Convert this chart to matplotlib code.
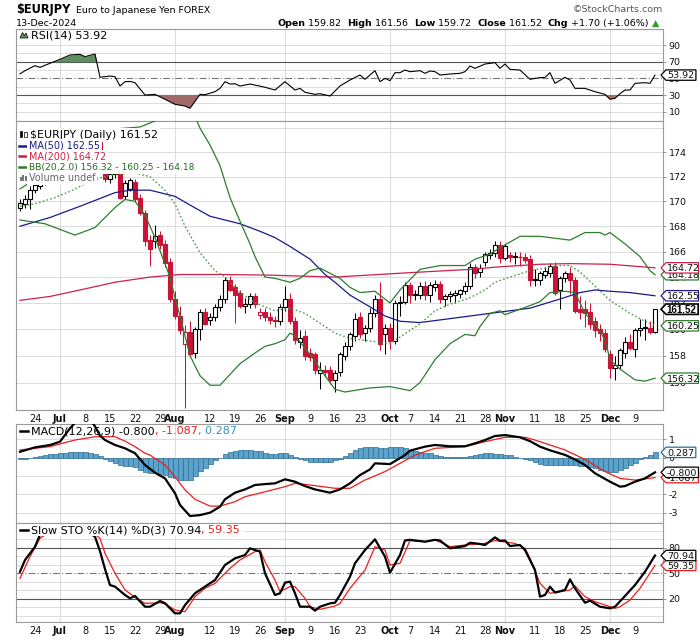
import numpy as np
import pandas as pd
import matplotlib
matplotlib.use("Agg")
import matplotlib.pyplot as plt
from matplotlib.patches import Rectangle, Polygon

plt.rcParams['font.family'] = ['DejaVu Sans']

# ---------------- data ----------------
dates = pd.bdate_range("2024-06-19", "2024-12-13")   # 128 trading days

opens = [169.50, 169.80, 170.20, 170.95, 171.20, 171.50, 171.70, 171.90, 172.40, 173.20,
         172.90, 173.90, 174.00, 174.20, 174.50, 174.70, 175.00, 172.60, 171.80, 172.20,
         172.30, 170.40, 171.00, 171.60, 170.30, 169.10, 166.90, 166.80, 167.30, 166.60,
         165.20, 162.30, 161.00, 158.90, 159.80, 158.20, 160.00, 161.30, 160.70, 160.90,
         161.70, 162.30, 163.80, 163.20, 162.80, 161.80, 161.90, 162.50, 161.10, 161.30,
         160.90, 160.70, 160.60, 161.70, 162.30, 160.60, 159.00, 159.50, 158.20, 158.10,
         156.70, 156.95, 156.90, 156.20, 156.80, 158.00, 158.70, 159.50, 160.90, 159.70,
         160.10, 161.20, 162.30, 159.60, 160.10, 159.10, 162.00, 162.10, 163.40, 162.60,
         162.60, 163.30, 162.60, 163.20, 163.50, 162.30, 162.50, 162.60, 162.70, 162.90,
         163.30, 164.80, 164.40, 165.20, 165.70, 165.90, 166.50, 165.50, 165.70, 165.60,
         165.60, 165.60, 165.40, 163.85, 163.80, 164.20, 164.30, 164.90, 163.00, 163.90,
         164.30, 163.80, 161.50, 161.50, 161.30, 160.60, 160.00, 159.70, 158.10, 157.10,
         157.30, 158.20, 159.00, 158.50, 159.90, 160.10, 160.10, 159.82]
highs = [170.15, 170.50, 171.20, 171.60, 171.70, 171.90, 172.10, 172.60, 173.40, 173.50,
         174.10, 174.20, 174.40, 174.70, 174.90, 175.20, 175.40, 174.00, 172.40, 172.50,
         172.50, 171.70, 171.90, 171.80, 170.60, 169.30, 167.30, 168.10, 167.60, 166.90,
         165.50, 162.90, 161.80, 160.30, 160.60, 160.20, 161.50, 161.60, 161.20, 161.90,
         162.60, 164.00, 164.10, 163.50, 163.00, 162.40, 162.80, 162.80, 161.60, 161.60,
         161.30, 161.00, 161.90, 163.30, 162.80, 160.90, 159.90, 159.90, 158.60, 158.30,
         157.50, 157.30, 157.20, 156.90, 158.30, 159.00, 159.80, 161.20, 161.30, 160.30,
         161.60, 162.60, 163.60, 160.40, 160.50, 162.20, 162.50, 163.60, 163.60, 163.00,
         163.60, 163.70, 163.60, 163.80, 163.70, 162.70, 162.90, 163.00, 163.10, 163.60,
         165.10, 165.00, 165.00, 166.00, 166.20, 166.80, 166.80, 166.60, 166.00, 166.00,
         166.00, 165.90, 165.70, 164.60, 164.50, 164.80, 165.10, 165.20, 164.10, 164.50,
         164.80, 164.00, 162.50, 162.20, 162.00, 160.90, 160.40, 160.00, 158.40, 158.00,
         158.60, 159.40, 159.60, 160.10, 160.80, 160.80, 160.60, 161.56]
lows = [169.20, 169.50, 169.40, 170.70, 171.00, 171.30, 171.50, 171.70, 172.20, 172.60,
        172.80, 173.60, 173.70, 173.90, 174.20, 174.50, 172.30, 171.60, 171.50, 171.90,
        170.20, 170.20, 170.80, 170.00, 168.90, 166.40, 164.90, 166.30, 166.20, 164.80,
        162.10, 160.80, 159.60, 154.10, 157.90, 157.80, 159.20, 160.30, 160.30, 160.60,
        161.40, 162.00, 162.90, 160.50, 161.60, 161.20, 161.60, 161.60, 160.80, 160.60,
        160.40, 160.20, 160.30, 161.40, 160.40, 158.90, 158.60, 157.70, 157.60, 156.60,
        155.50, 156.40, 155.90, 155.30, 156.50, 157.70, 158.40, 159.10, 159.30, 159.10,
        159.80, 160.90, 158.40, 158.10, 158.50, 158.90, 161.00, 161.90, 162.00, 162.20,
        162.30, 162.20, 162.10, 162.90, 162.00, 161.80, 162.10, 162.00, 162.40, 162.70,
        163.10, 163.90, 164.00, 164.90, 165.40, 165.60, 165.10, 165.30, 165.20, 165.00,
        164.90, 165.10, 163.30, 163.30, 163.40, 163.90, 164.00, 162.60, 161.50, 163.60,
        162.70, 161.20, 160.80, 160.20, 160.00, 159.40, 159.10, 158.30, 156.30, 156.20,
        157.00, 157.80, 158.40, 157.90, 159.50, 159.20, 159.60, 159.72]
closes = [169.85, 170.20, 170.95, 171.30, 171.50, 171.70, 171.90, 172.40, 173.20, 172.90,
          173.90, 174.00, 174.20, 174.50, 174.70, 175.00, 172.60, 171.80, 172.20, 172.30,
          170.30, 171.50, 171.70, 170.20, 169.10, 166.80, 166.20, 167.20, 166.50, 165.10,
          162.30, 161.00, 159.90, 159.80, 158.10, 160.00, 161.30, 160.40, 160.90, 161.70,
          162.30, 163.80, 163.00, 162.60, 161.80, 161.95, 162.50, 161.90, 161.30, 160.90,
          160.70, 160.60, 161.70, 162.30, 160.60, 159.20, 159.30, 158.00, 157.90, 156.90,
          156.95, 156.80, 156.20, 156.70, 158.10, 158.70, 159.60, 160.80, 159.60, 160.10,
          161.20, 162.30, 158.90, 160.10, 159.10, 162.00, 162.10, 163.40, 162.60, 162.70,
          163.30, 162.60, 163.40, 163.50, 162.30, 162.50, 162.70, 162.80, 163.00, 163.30,
          164.80, 164.30, 164.70, 165.80, 165.90, 166.50, 165.50, 166.40, 165.60, 165.65,
          165.60, 165.30, 163.80, 163.80, 164.30, 164.50, 164.90, 162.80, 163.90, 164.30,
          163.80, 161.40, 161.30, 161.20, 160.40, 159.90, 159.70, 158.50, 157.10, 157.30,
          158.40, 159.00, 158.60, 159.90, 160.10, 160.15, 159.82, 161.52]

ma50_i = [0, 6, 12, 19, 22, 26, 29, 31, 34, 38, 44, 48, 51, 54, 58, 61, 63, 66, 70, 73,
          76, 80, 84, 90, 96, 102, 108, 112, 115, 118, 122, 127]
ma50_v = [168.0, 168.7, 169.6, 170.7, 170.9, 170.9, 170.6, 170.4, 169.7, 168.8, 168.2, 167.6,
          167.1, 166.4, 165.4, 164.2, 163.6, 162.6, 161.7, 161.0, 160.6, 160.5, 160.7, 161.0,
          161.3, 161.6, 162.3, 162.8, 163.0, 162.9, 162.8, 162.55]
ma200_i = [0, 6, 12, 19, 26, 32, 40, 50, 63, 76, 90, 96, 104, 110, 118, 127]
ma200_v = [162.2, 162.5, 163.0, 163.6, 164.0, 164.2, 164.2, 164.15, 164.0, 164.3, 164.6,
           164.8, 165.0, 165.05, 165.0, 164.72]
bbl_i = [0, 5, 11, 15, 19, 21, 23, 25, 27, 30, 31, 32, 34, 36, 38, 40, 42, 44, 47, 49, 51,
         53, 54, 55, 58, 61, 63, 65, 70, 74, 78, 80, 83, 86, 89, 91, 92, 94, 96, 97, 102, 104,
         106, 109, 111, 113, 115, 117, 118, 120, 123, 125, 127]
bbl_v = [168.5, 168.2, 167.3, 167.9, 169.5, 170.15, 170.0, 168.9, 167.1, 164.0, 162.4, 161.0,
         158.0, 156.5, 155.8, 155.8, 156.6, 157.4, 158.2, 158.7, 158.9, 159.2, 159.7, 159.5,
         158.1, 156.5, 155.5, 155.3, 155.6, 155.7, 155.4, 156.0, 157.7, 158.9, 159.6, 159.5,
         160.2, 161.2, 161.4, 161.1, 161.8, 162.1, 162.8, 162.9, 162.8, 161.2, 160.4, 159.2,
         157.7, 157.0, 156.2, 156.1, 156.32]
bbu_i = [0, 3, 6, 9, 12, 15, 18, 21, 24, 27, 30, 33, 35, 36, 38, 40, 42, 44, 46, 47, 49, 51,
         54, 56, 58, 60, 62, 64, 66, 68, 71, 73, 74, 76, 80, 84, 89, 91, 94, 96, 100, 104, 110,
         113, 116, 117, 118, 121, 124, 126, 127]
bbu_v = [171.0, 171.8, 173.0, 174.3, 175.2, 175.7, 175.9, 176.0, 176.1, 176.6, 177.6, 177.8,
         177.0, 176.0, 174.6, 172.9, 170.3, 168.4, 166.6, 165.6, 164.0, 163.9, 163.6, 163.9,
         164.5, 164.7, 164.3, 163.9, 163.2, 162.8, 162.9, 162.3, 162.0, 163.0, 164.6, 164.9,
         164.9, 165.4, 165.8, 166.3, 167.2, 167.2, 166.9, 167.5, 167.5, 167.3, 167.5, 166.6,
         165.6, 164.5, 164.18]
bbm_i = [0, 3, 7, 10, 13, 16, 19, 23, 26, 29, 31, 33, 36, 39, 41, 44, 47, 51, 54, 57, 61, 63,
         66, 70, 74, 76, 80, 83, 86, 90, 93, 95, 98, 102, 105, 108, 110, 112, 115, 118, 122,
         125, 127]
bbm_v = [169.6, 169.8, 170.3, 170.8, 171.4, 171.9, 172.2, 172.3, 172.0, 170.9, 169.8, 168.0,
         165.9, 164.5, 164.0, 162.8, 162.0, 161.4, 161.6, 161.2, 160.2, 159.7, 159.3, 159.1,
         158.9, 159.4, 160.4, 161.4, 161.9, 162.4, 163.0, 163.6, 164.0, 164.5, 164.7, 164.9,
         164.9, 164.4, 163.3, 162.2, 161.2, 160.6, 160.25]

rsi_i = [0, 1, 3, 4, 6, 8, 10, 12, 13, 15, 16, 18, 19, 20, 21, 22, 23, 25, 27, 29, 31, 33,
         34, 36, 37, 39, 40, 41, 42, 43, 44, 46, 49, 51, 53, 55, 56, 57, 59, 60, 62, 64, 66,
         68, 69, 71, 72, 73, 74, 75, 76, 77, 78, 80, 81, 82, 83, 84, 86, 88, 89, 90, 91, 93,
         95, 96, 97, 98, 100, 102, 103, 104, 105, 106, 107, 109, 110, 111, 113, 115, 117,
         118, 119, 120, 121, 122, 123, 125, 126, 127]
rsi_v = [55.4, 59.2, 65.2, 63.2, 68.1, 72.8, 78.0, 78.8, 76.0, 79.2, 51.3, 52.8, 52.0, 40.8,
         46.0, 46.3, 44.8, 30.0, 30.8, 24.9, 18.9, 16.8, 14.1, 30.8, 30.4, 34.0, 38.0, 46.0,
         43.2, 43.5, 40.8, 43.2, 39.3, 36.0, 46.0, 36.0, 38.0, 33.3, 30.8, 31.6, 28.8, 40.8,
         48.0, 54.0, 48.9, 59.2, 46.0, 50.0, 47.2, 56.8, 56.8, 60.0, 58.0, 59.2, 56.0, 58.8,
         58.0, 54.0, 55.2, 56.0, 58.0, 64.8, 62.0, 67.2, 68.8, 62.0, 67.2, 60.8, 60.0, 48.9,
         50.0, 50.8, 51.2, 56.8, 44.0, 51.2, 48.0, 38.0, 38.0, 34.0, 30.8, 24.9, 26.0, 31.6,
         36.0, 36.0, 44.0, 44.8, 44.0, 53.92]

macd_i = [0, 3, 6, 8, 10, 11, 12, 14, 15, 16, 17, 19, 21, 23, 25, 27, 29, 31, 32, 34, 36,
          38, 40, 41, 43, 45, 47, 49, 51, 53, 55, 57, 59, 62, 64, 66, 68, 70, 71, 74, 77, 78,
          81, 83, 86, 89, 91, 93, 95, 97, 100, 102, 104, 106, 109, 111, 113, 115, 118, 120,
          121, 123, 125, 127]
macd_v = [0.32, 0.56, 0.69, 0.87, 1.60, 1.90, 2.05, 2.10, 1.70, 1.20, 0.96, 0.69, 0.51, 0.24,
          -0.40, -0.82, -1.13, -1.94, -2.58, -3.18, -3.13, -3.00, -2.67, -2.27, -1.91, -1.73,
          -1.49, -1.44, -1.40, -1.18, -1.31, -1.55, -1.73, -1.91, -1.73, -1.40, -0.95, -0.64,
          -0.31, -0.35, 0.14, 0.38, 0.60, 0.69, 0.62, 0.62, 0.78, 0.96, 1.18, 1.23, 1.11, 0.90,
          0.60, 0.40, 0.15, -0.10, -0.40, -0.85, -1.31, -1.58, -1.55, -1.31, -1.13, -0.80]
sig_i = [0, 3, 6, 9, 11, 15, 19, 21, 23, 25, 26, 29, 31, 33, 35, 38, 40, 43, 45, 49, 53, 55,
         58, 63, 66, 69, 73, 76, 79, 83, 89, 93, 97, 101, 103, 109, 113, 117, 120, 123, 127]
sig_v = [0.42, 0.51, 0.60, 0.82, 0.96, 1.14, 1.14, 0.90, 0.60, 0.24, 0.14, -0.40, -1.04,
         -1.76, -2.27, -2.64, -2.64, -2.40, -2.13, -1.86, -1.58, -1.40, -1.49, -1.67, -1.67,
         -1.22, -0.76, -0.31, 0.14, 0.51, 0.60, 0.87, 1.11, 1.11, 0.96, 0.42, -0.10, -0.76,
         -1.13, -1.22, -1.087]
hist_v = [-0.10, -0.08, -0.02, 0.05, 0.10, 0.15, 0.20, 0.22, 0.24, 0.27,
          0.29, 0.30, 0.30, 0.29, 0.27, 0.22, 0.10, -0.09, -0.20, -0.31,
          -0.38, -0.43, -0.47, -0.52, -0.70, -0.78, -0.82, -0.85, -0.90, -0.97,
          -1.04, -1.12, -1.22, -1.24, -1.22, -0.98, -0.72, -0.55, -0.36, -0.15,
          0.00, 0.20, 0.32, 0.38, 0.40, 0.40, 0.40, 0.38, 0.36, 0.28,
          0.20, 0.22, 0.27, 0.28, 0.17, 0.05, -0.05, -0.15, -0.22, -0.24,
          -0.24, -0.22, -0.22, -0.15, -0.08, 0.10, 0.24, 0.40, 0.54, 0.56,
          0.56, 0.58, 0.52, 0.55, 0.60, 0.58, 0.56, 0.50, 0.42, 0.36,
          0.30, 0.27, 0.24, 0.15, 0.08, 0.05, 0.03, 0.02, 0.03, 0.06,
          0.09, 0.15, 0.20, 0.24, 0.24, 0.22, 0.18, 0.14, 0.12, 0.06,
          0.00, -0.06, -0.13, -0.25, -0.36, -0.40, -0.40, -0.42, -0.40, -0.40,
          -0.40, -0.42, -0.44, -0.46, -0.52, -0.58, -0.65, -0.72, -0.76, -0.76,
          -0.68, -0.58, -0.42, -0.28, -0.10, 0.02, 0.14, 0.287]

stok_i = [0, 1, 3, 4, 5, 6, 7, 8, 10, 12, 13, 14, 15, 16, 17, 18, 19, 21, 22, 23, 25, 26, 28,
          29, 31, 32, 33, 35, 37, 39, 41, 43, 45, 46, 48, 49, 51, 52, 53, 54, 55, 56, 58, 59,
          60, 62, 63, 64, 66, 67, 69, 71, 73, 74, 76, 77, 78, 81, 83, 84, 86, 89, 90, 92, 93,
          95, 96, 97, 98, 100, 101, 103, 104, 105, 106, 107, 109, 110, 111, 113, 114, 116,
          118, 119, 121, 123, 125, 127]
stok_v = [51.9, 65.6, 81.3, 95.5, 96.0, 96.0, 99.0, 100.0, 100.0, 100.0, 99.0, 97.0, 93.0,
          76.0, 55.0, 36.2, 34.3, 24.5, 20.6, 23.3, 10.7, 10.7, 17.4, 14.8, 2.9, 2.9, 12.6,
          26.5, 34.3, 42.1, 59.8, 67.6, 71.5, 79.4, 75.5, 50.0, 24.5, 26.5, 39.0, 40.2, 26.5,
          10.7, 10.7, 6.0, 10.7, 14.6, 15.4, 24.5, 46.0, 61.8, 77.4, 90.0, 69.6, 50.7, 71.5,
          88.6, 89.4, 87.2, 89.4, 88.6, 79.4, 82.1, 86.0, 84.5, 83.3, 92.3, 88.2, 88.6, 82.1,
          83.3, 77.4, 53.9, 22.5, 24.5, 34.3, 27.3, 30.4, 42.9, 32.3, 15.4, 17.8, 10.7, 8.8,
          10.7, 23.3, 36.2, 51.9, 70.94]
stod_i = [0, 2, 4, 5, 6, 8, 10, 12, 14, 15, 16, 17, 19, 21, 23, 25, 28, 29, 31, 33, 35, 37,
          39, 42, 44, 47, 48, 49, 51, 52, 54, 55, 57, 58, 60, 63, 64, 66, 69, 71, 73, 74, 76,
          78, 81, 83, 86, 89, 93, 95, 99, 101, 102, 104, 106, 108, 110, 111, 113, 115, 119,
          120, 122, 124, 127]
stod_v = [44.1, 69.6, 91.2, 95.0, 95.5, 98.0, 99.5, 100.0, 98.0, 96.0, 91.2, 73.5, 50.0,
          30.4, 21.8, 14.6, 15.4, 14.0, 6.8, 4.8, 22.5, 32.3, 38.2, 55.9, 65.7, 75.5, 77.4,
          63.7, 42.1, 28.4, 34.3, 34.3, 20.6, 10.7, 7.6, 11.5, 14.6, 32.3, 53.9, 81.3, 77.4,
          59.8, 61.8, 88.6, 87.2, 89.4, 81.3, 83.3, 85.2, 88.6, 85.2, 79.4, 67.6, 38.2, 26.5,
          28.4, 30.4, 35.3, 22.5, 16.6, 8.8, 10.7, 18.5, 32.3, 59.35]

# ---------------- layout ----------------
W, H = 700, 639
fig = plt.figure(figsize=(W / 100, H / 100), dpi=100)
L, R = 16, 663
XL = (-0.8, 128.6)

RED = '#cc1236'
GRID = '#dcdcdc'
SPINE = '#9a9a9a'
GREEN = '#2f7d2f'


def panel(top, bottom):
    return fig.add_axes([L / W, 1 - bottom / H, (R - L) / W, (bottom - top) / H])


ax_r = panel(29, 121)
ax_p = panel(121, 410)
ax_m = panel(424, 523)
ax_s = panel(523, 622)

n = len(closes)
month_first = [i for i in range(1, n) if dates[i].month != dates[i - 1].month]
mondays = [i for i in range(n) if dates[i].weekday() == 0]
tick_pos, tick_txt, tick_bold = [], [], []
for i in sorted(set(month_first) | set(mondays)):
    if i in month_first:
        tick_pos.append(i); tick_txt.append(dates[i].strftime('%b')); tick_bold.append(True)
    elif min(abs(i - m) for m in month_first) > 2:
        tick_pos.append(i); tick_txt.append(str(dates[i].day)); tick_bold.append(False)

for ax in (ax_r, ax_p, ax_m, ax_s):
    ax.set_xlim(*XL)
    for s in ax.spines.values():
        s.set_color(SPINE); s.set_linewidth(0.8)
    ax.yaxis.tick_right()
    ax.tick_params(axis='y', length=2, width=0.6, color='#888888', labelsize=6.8, pad=2,
                   labelcolor='#111111')
    ax.set_xticks([])
    for m in month_first:
        ax.axvline(m, color=GRID, lw=0.8, zorder=0)


def xlabels(ax):
    ax.set_xticks(tick_pos)
    ax.set_xticklabels(tick_txt)
    for lab, b in zip(ax.get_xticklabels(), tick_bold):
        lab.set_fontweight('bold' if b else 'normal')
    ax.tick_params(axis='x', length=0, pad=2.6, labelsize=7, labelcolor='#111111')


# ---- RSI ----
ax_r.set_ylim(-1.16, 109.2)
for v in range(10, 100, 10):
    if v in (30, 70):
        ax_r.axhline(v, color='#555555', lw=0.8, zorder=1)
    elif v == 50:
        ax_r.axhline(v, color='#777777', lw=0.8, ls=(0, (6, 2, 1, 2)), zorder=1)
    else:
        ax_r.axhline(v, color=GRID, lw=0.7, zorder=0)
ri = np.array(rsi_i); rv = np.array(rsi_v)
ax_r.fill_between(ri, rv, 70, where=rv > 70, interpolate=True, color='#5f8f5f', lw=0, zorder=2)
ax_r.fill_between(ri, rv, 30, where=rv < 30, interpolate=True, color='#a36a6a', lw=0, zorder=2)
ax_r.plot(ri, rv, color='black', lw=0.8, zorder=3)
ax_r.set_yticks([10, 30, 50, 70, 90])
ax_r.set_yticklabels(['10', '30', '50', '70', '90'])

# ---- Price ----
ax_p.set_yscale('log')
ax_p.set_ylim(153.98, 176.6)
ax_p.yaxis.set_minor_locator(matplotlib.ticker.NullLocator())
for v in range(156, 178, 2):
    ax_p.axhline(v, color=GRID, lw=0.7, zorder=0)
pt = list(range(156, 176, 2))
ax_p.set_yticks(pt)
ax_p.set_yticklabels([str(v) for v in pt])
ax_p.yaxis.set_minor_formatter(matplotlib.ticker.NullFormatter())

bw = 0.66
for i in range(n):
    o, h, l, c = opens[i], highs[i], lows[i], closes[i]
    prev = closes[i - 1] if i else o
    col = RED if c < prev else 'black'
    ax_p.vlines(i, l, h, color=col, lw=0.75, zorder=2)
    lo, hi = min(o, c), max(o, c)
    if hi - lo < 0.04:
        ax_p.hlines(c, i - bw / 2, i + bw / 2, color=col, lw=1.0, zorder=3)
    else:
        fc = 'white' if c >= o else col
        ax_p.add_patch(Rectangle((i - bw / 2, lo), bw, hi - lo, fc=fc, ec=col, lw=0.8, zorder=3))

ax_p.plot(ma200_i, ma200_v, color='#d0204a', lw=0.9, zorder=4)
ax_p.plot(ma50_i, ma50_v, color='#1a1a8c', lw=0.9, zorder=4)
ax_p.plot(bbu_i, bbu_v, color=GREEN, lw=0.9, zorder=4)
ax_p.plot(bbl_i, bbl_v, color=GREEN, lw=0.9, zorder=4)
ax_p.plot(bbm_i, bbm_v, color='#4f9a4f', lw=1.0, ls=(0, (1.2, 1.6)), zorder=4)
xlabels(ax_p)

# ---- MACD ----
ax_m.set_ylim(-3.561, 1.834)
for v in (-3, -2, -1, 0, 1):
    ax_m.axhline(v, color=GRID, lw=0.7, zorder=0)
ax_m.bar(range(n), hist_v, width=1.0, color='#5ba3cc', edgecolor='#2e6e90', lw=0.5, zorder=2)
ax_m.plot(sig_i, sig_v, color='#ee1c1c', lw=0.9, zorder=3)
ax_m.plot(macd_i, macd_v, color='black', lw=1.6, zorder=4)
ax_m.set_yticks([-3, -2, -1, 0, 1])
ax_m.set_yticklabels(['-3', '-2', '-1', '0', '1'])

# ---- Slow STO ----
ax_s.set_ylim(-7.3, 109.2)
for v in range(0, 110, 10):
    if v in (20, 80):
        ax_s.axhline(v, color='#555555', lw=0.8, zorder=1)
    elif v == 50:
        ax_s.axhline(v, color='#777777', lw=0.8, ls=(0, (6, 2, 1, 2)), zorder=1)
    else:
        ax_s.axhline(v, color=GRID, lw=0.7, zorder=0)
ax_s.plot(stod_i, stod_v, color='#ee1c1c', lw=0.9, zorder=3)
ax_s.plot(stok_i, stok_v, color='black', lw=1.6, zorder=4)
ax_s.set_yticks([20, 50, 80])
ax_s.set_yticklabels(['20', '50', '80'])
xlabels(ax_s)

# ---------------- overlay (texts, legends, tags) ----------------
ov = fig.add_axes([0, 0, 1, 1], zorder=20)
ov.set_xlim(0, W); ov.set_ylim(H, 0); ov.axis('off'); ov.patch.set_alpha(0)
renderer = fig.canvas.get_renderer()


def seq(x, y, pieces, size, z=6, bbox=None):
    for s, c, wgt in pieces:
        t = ov.text(x, y, s, color=c, fontsize=size, fontweight=wgt, va='baseline', ha='left',
                    zorder=z, bbox=bbox)
        x += t.get_window_extent(renderer=renderer).width
    return x


# header
ov.text(16, 13.5, '$EURJPY', fontsize=8.3, fontweight='bold', va='baseline', color='black')
ov.text(76, 13.3, 'Euro to Japanese Yen FOREX', fontsize=6.8, va='baseline', color='black')
ov.text(16, 26, '13-Dec-2024', fontsize=6.8, va='baseline', color='black')
ov.text(663, 12, '\u00a9StockCharts.com', fontsize=6.8, va='baseline', ha='right', color='#555555')
B, N = 'bold', 'normal'
seq(277, 26, [('Open', 'black', B), (' 159.82  ', 'black', N), ('High', 'black', B),
              (' 161.56  ', 'black', N), ('Low', 'black', B), (' 159.72  ', 'black', N),
              ('Close', 'black', B), (' 161.52  ', 'black', N), ('Chg', 'black', B),
              (' +1.70 (+1.06%) ', 'black', N), ('\u25b2', '#2a9d2a', N)], 6.8)

# RSI legend
ov.add_patch(Polygon([(20, 38), (22.5, 32.5), (24.5, 35.5), (26, 33), (28, 38)], closed=True,
                     fc='#5f8f5f', ec='black', lw=0.5, zorder=6))
seq(31, 38.3, [('RSI(14) %.2f' % rsi_v[-1], 'black', N)], 8.0)

# price legend
wb = dict(boxstyle='square,pad=0.2', fc='white', ec='none')
ov.add_patch(Rectangle((17, 128), 13, 56, fc='white', ec='none', zorder=5))
ov.add_patch(Rectangle((19.5, 131), 2.5, 6, fc='black', ec='black', lw=0.5, zorder=6))
ov.add_patch(Rectangle((24, 132), 2.5, 5, fc='white', ec='black', lw=0.5, zorder=6))
seq(30, 138, [('$EURJPY (Daily) %.2f' % closes[-1], 'black', N)], 7.9, bbox=wb)
ov.plot([19, 28], [145.5, 145.5], color='#1a1a8c', lw=1.8, zorder=6)
seq(29, 148.9, [('MA(50) %.2f' % ma50_v[-1], '#1a1a8c', N)], 6.9, bbox=wb)
ov.plot([19, 28], [156.2, 156.2], color='#d0204a', lw=1.8, zorder=6)
seq(29, 159.6, [('MA(200) %.2f' % ma200_v[-1], '#d0204a', N)], 6.9, bbox=wb)
ov.plot([19, 28], [166.9, 166.9], color=GREEN, lw=1.8, zorder=6)
seq(29, 170.3, [('BB(20,2.0) %.2f - %.2f - %.2f' % (bbl_v[-1], bbm_v[-1], bbu_v[-1]),
                 '#1e6e1e', N)], 6.6, bbox=wb)
for k, hh in enumerate([4, 6, 5]):
    ov.add_patch(Rectangle((19.5 + k * 2.7, 180.5 - hh), 2, hh, fc='#777777', ec='none', zorder=6))
seq(29, 181.0, [('Volume undef', '#666666', N)], 6.9, bbox=wb)

# MACD legend
ov.plot([20, 28], [431, 431], color='black', lw=1.8, zorder=6)
seq(31, 434, [('MACD(12,26,9) %.3f' % macd_v[-1], 'black', N), (', %.3f' % sig_v[-1], '#ee1c1c', N),
              (', %.3f' % hist_v[-1], '#3a8fc0', N)], 8.0)
# STO legend (white backing)
ov.add_patch(Rectangle((17, 524.5), 228, 11.5, fc='white', ec='none', zorder=5))
ov.plot([20, 28], [530, 530], color='black', lw=1.8, zorder=6)
seq(31, 533.3, [('Slow STO %%K(14) %%D(3) %.2f' % stok_v[-1], 'black', N),
                (', %.2f' % stod_v[-1], '#ee1c1c', N)], 8.0)

# value tags on the right
zc = [10]


def tag(ax, val, text, edge, bold=False, lw=0.9):
    y = H - ax.transData.transform((0, val))[1]
    z = zc[0]; zc[0] += 2
    if bold:
        t = ov.text(666.5, y + 3.4, text, fontsize=7.0, va='baseline', ha='left', color='black',
                    fontweight='bold', family=['Liberation Sans', 'DejaVu Sans'], zorder=z + 1)
    else:
        t = ov.text(667, y + 3.4, text, fontsize=6.8, va='baseline', ha='left', color='#111111',
                    zorder=z + 1)
    w = t.get_window_extent(renderer=renderer).width
    x0, x1, hh = 661, min(698.5, t.get_position()[0] + w + 1.8), 5.2
    ov.add_patch(Polygon([(x0, y), (x0 + 5, y - hh), (x1, y - hh), (x1, y + hh), (x0 + 5, y + hh)],
                         closed=True, fc='white', ec=edge, lw=lw, zorder=z))


tag(ax_r, rsi_v[-1], '%.2f' % rsi_v[-1], 'black')
tag(ax_p, bbu_v[-1], '%.2f' % bbu_v[-1], GREEN)
tag(ax_p, ma200_v[-1], '%.2f' % ma200_v[-1], '#d0204a')
tag(ax_p, ma50_v[-1], '%.2f' % ma50_v[-1], '#1a1a8c')
tag(ax_p, bbm_v[-1], '%.2f' % bbm_v[-1], GREEN)
tag(ax_p, bbl_v[-1], '%.2f' % bbl_v[-1], GREEN)
tag(ax_p, closes[-1], '%.2f' % closes[-1], 'black', bold=True, lw=1.2)
tag(ax_m, hist_v[-1], '%.3f' % hist_v[-1], '#2e6e90')
tag(ax_m, sig_v[-1], '%.3f' % sig_v[-1], '#ee1c1c')
tag(ax_m, macd_v[-1], '%.3f' % macd_v[-1], 'black')
tag(ax_s, stod_v[-1], '%.2f' % stod_v[-1], '#ee1c1c')
tag(ax_s, stok_v[-1], '%.2f' % stok_v[-1], 'black')

fig.savefig('out.png', dpi=100)
